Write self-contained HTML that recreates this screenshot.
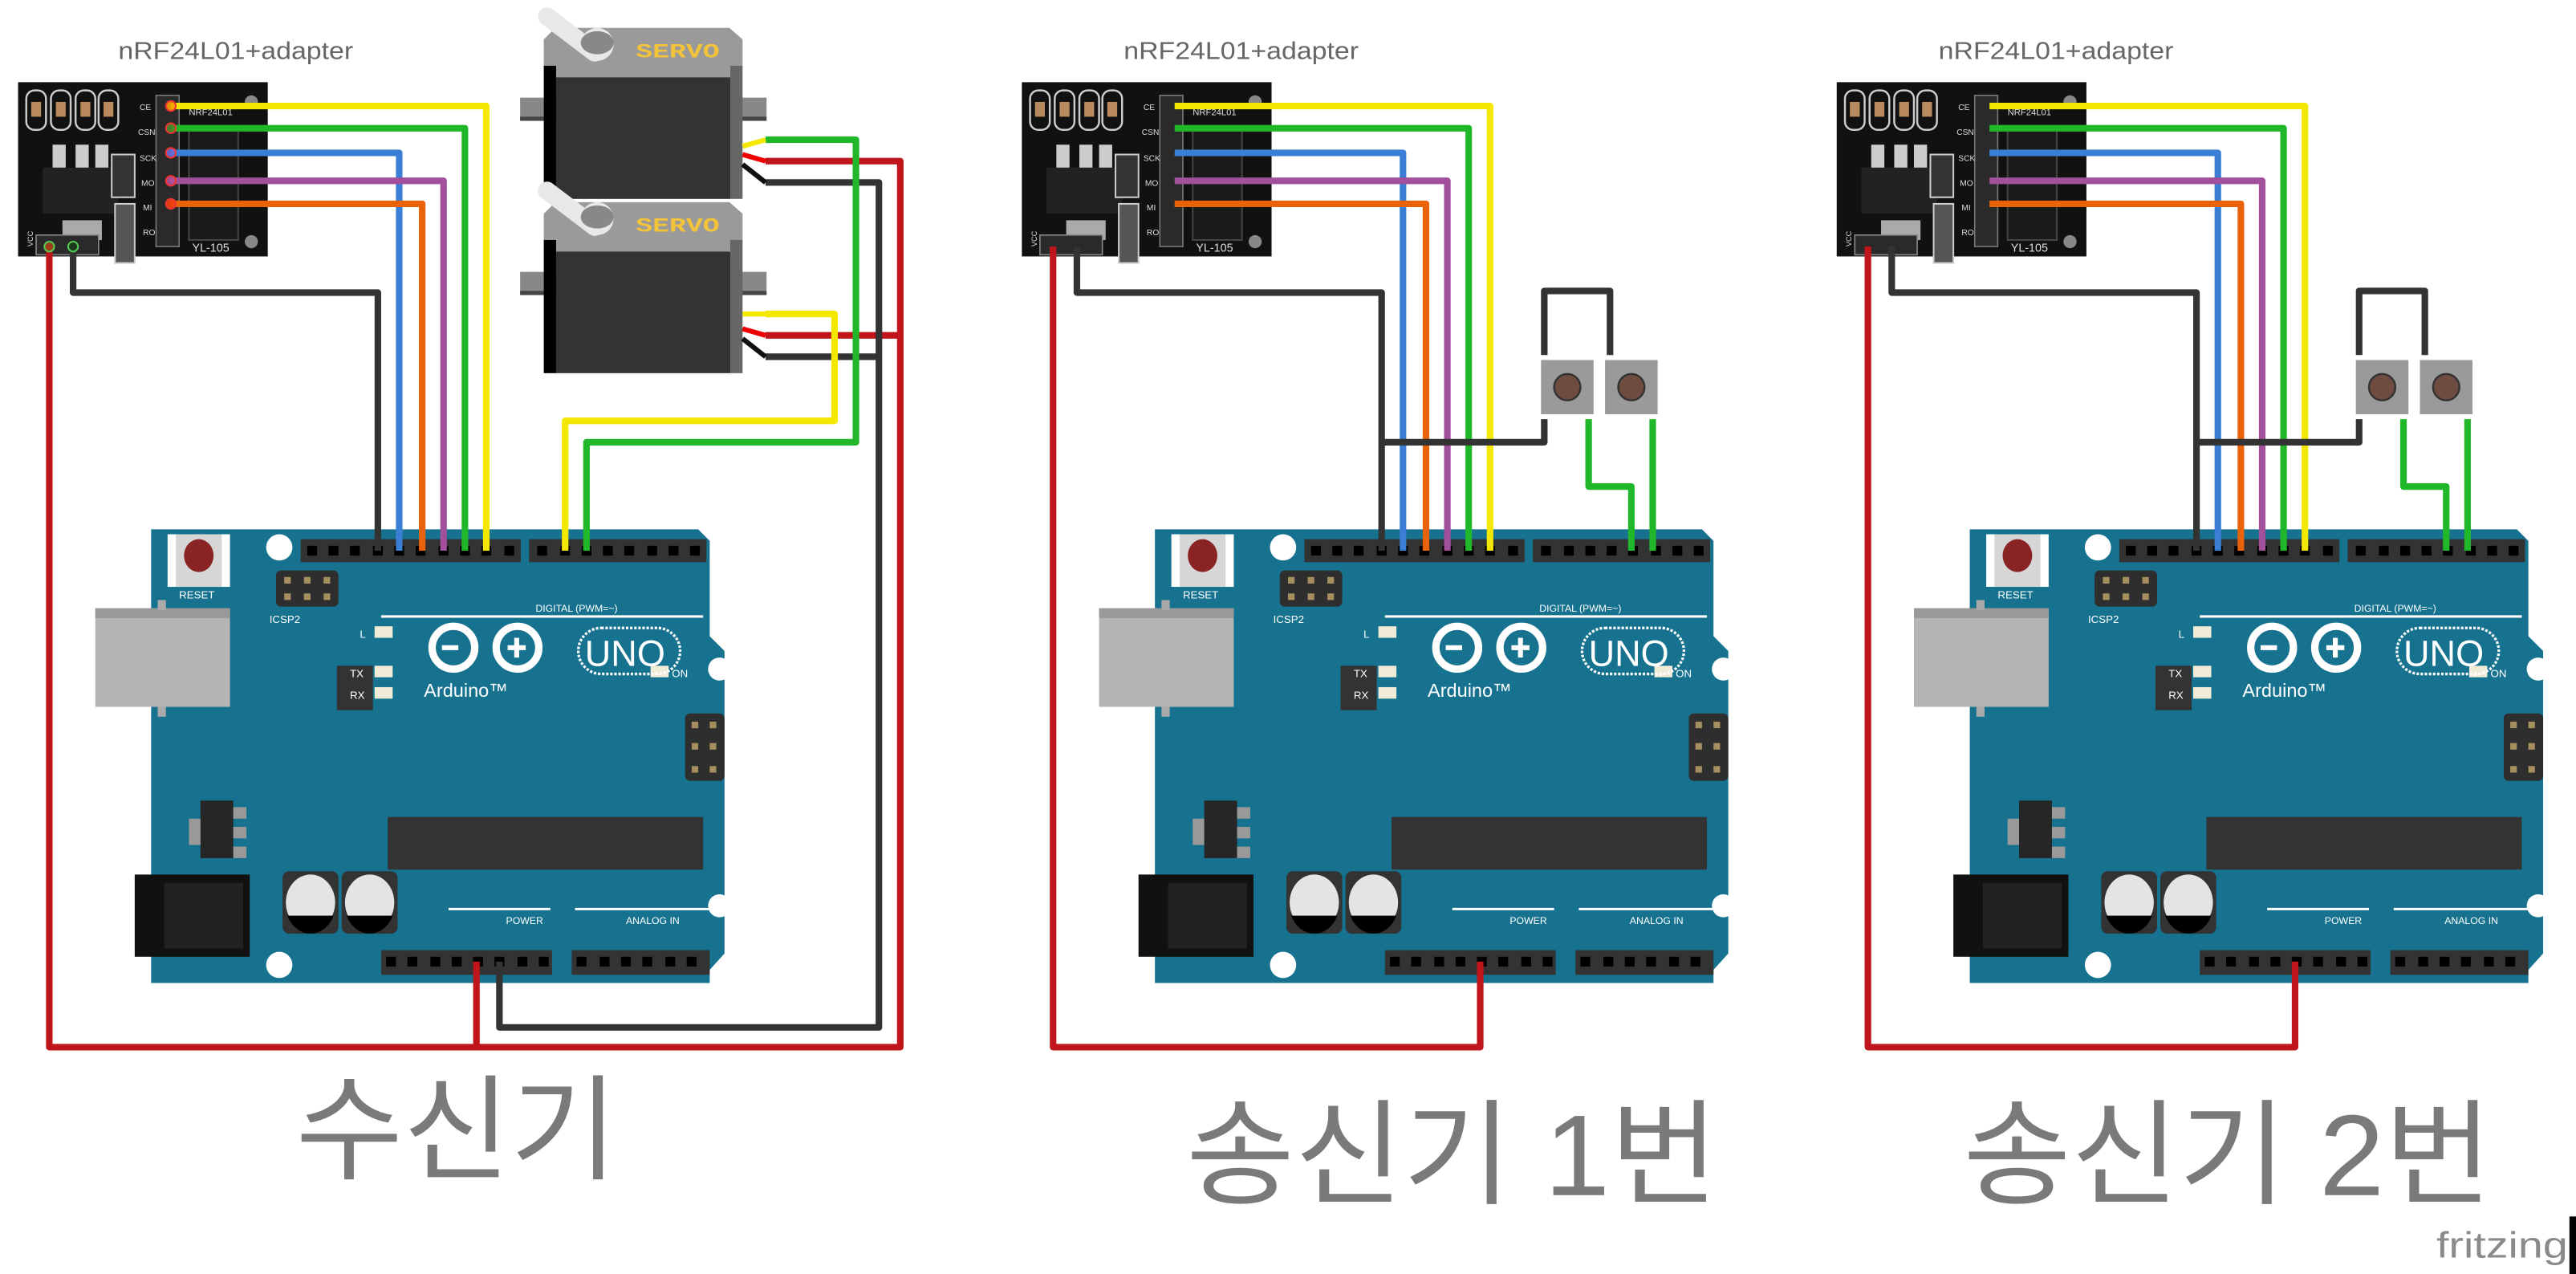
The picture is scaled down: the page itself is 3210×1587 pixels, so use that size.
<!DOCTYPE html>
<html><head><meta charset="utf-8"><style>
html,body{margin:0;padding:0;background:#fff;}
svg{display:block;}
</style></head><body>
<svg width="3210" height="1587" viewBox="0 0 1568 775" preserveAspectRatio="none" xmlns="http://www.w3.org/2000/svg" font-family="Liberation Sans, sans-serif">
<defs>
<g id="nrf">
  <rect x="11" y="50" width="152" height="106" fill="#111"/>
  <g fill="none" stroke="#ccc" stroke-width="1.2">
    <rect x="16" y="55" width="12" height="24" rx="5"/><rect x="31" y="55" width="12" height="24" rx="5"/>
    <rect x="46" y="55" width="12" height="24" rx="5"/><rect x="60" y="55" width="12" height="24" rx="5"/>
  </g>
  <g fill="#b98a5e"><rect x="19" y="62" width="6" height="9"/><rect x="34" y="62" width="6" height="9"/><rect x="49" y="62" width="6" height="9"/><rect x="63" y="62" width="6" height="9"/></g>
  <rect x="32" y="88" width="8" height="14" fill="#ccc"/><rect x="46" y="88" width="8" height="14" fill="#ccc"/><rect x="58" y="88" width="8" height="14" fill="#ccc"/>
  <rect x="26" y="102" width="46" height="28" fill="#222"/>
  <rect x="38" y="134" width="24" height="12" fill="#aaa"/>
  <rect x="68" y="94" width="14" height="26" fill="#333" stroke="#ccc" stroke-width="1"/>
  <rect x="70" y="124" width="12" height="36" fill="#555" stroke="#ccc" stroke-width="1"/>
  <rect x="95" y="58" width="14" height="92" fill="#2a2a2a" stroke="#777" stroke-width="0.8"/>
  <rect x="115" y="78" width="30" height="68" fill="#1a1a1a" stroke="#444"/>
  <g fill="#ddd" font-size="5">
    <text x="85" y="67">CE</text><text x="84" y="82">CSN</text><text x="85" y="98">SCK</text>
    <text x="86" y="113">MO</text><text x="87" y="128">MI</text><text x="87" y="143">RO</text>
    <text x="115" y="70" font-size="5.5">NRF24L01</text><text x="117" y="153" font-size="7">YL-105</text>
  </g>
  <circle cx="153" cy="62" r="4" fill="#888"/><circle cx="153" cy="147" r="4" fill="#888"/>
  <rect x="22" y="143" width="38" height="12" fill="#2a2a2a" stroke="#888" stroke-width="0.8"/>
  <text x="17" y="153" font-size="4.5" fill="#ddd" transform="rotate(-90 17 150)">VCC</text>
</g>
<g id="board">
  <polygon points="92,322 425,322 432,329 432,387 441,396 441,580 432,590 432,598 92,598" fill="#16728f"/>
  <rect x="58" y="370" width="82" height="60" fill="#b5b5b5"/><rect x="58" y="370" width="82" height="6" fill="#999"/>
  <rect x="96" y="365" width="5" height="6" fill="#aaa"/><rect x="96" y="430" width="5" height="6" fill="#aaa"/>
  <rect x="102" y="325" width="38" height="32" fill="#fff"/><rect x="107" y="325" width="28" height="32" fill="#d6d6d6"/>
  <ellipse cx="121" cy="338" rx="9" ry="10" fill="#8a2323"/>
  <circle cx="170" cy="333" r="8" fill="#fff"/>
  <rect x="168" y="347" width="38" height="22" rx="3" fill="#2e2e2e"/>
  <g fill="#a58f5f"><rect x="173" y="351" width="4" height="4"/><rect x="185" y="351" width="4" height="4"/><rect x="197" y="351" width="4" height="4"/><rect x="173" y="361" width="4" height="4"/><rect x="185" y="361" width="4" height="4"/><rect x="197" y="361" width="4" height="4"/></g>
  <rect x="183" y="328" width="134" height="14" fill="#333"/>
  <rect x="322" y="328" width="108" height="14" fill="#333"/>
  <g fill="#000">
    <rect x="187" y="332" width="6" height="6"/><rect x="200" y="332" width="6" height="6"/><rect x="213" y="332" width="6" height="6"/><rect x="227" y="332" width="6" height="6"/><rect x="240" y="332" width="6" height="6"/><rect x="253" y="332" width="6" height="6"/><rect x="267" y="332" width="6" height="6"/><rect x="280" y="332" width="6" height="6"/><rect x="293" y="332" width="6" height="6"/><rect x="307" y="332" width="6" height="6"/>
    <rect x="327" y="332" width="6" height="6"/><rect x="341" y="332" width="6" height="6"/><rect x="354" y="332" width="6" height="6"/><rect x="367" y="332" width="6" height="6"/><rect x="380" y="332" width="6" height="6"/><rect x="394" y="332" width="6" height="6"/><rect x="407" y="332" width="6" height="6"/><rect x="420" y="332" width="6" height="6"/>
  </g>
  <line x1="232" y1="375" x2="428" y2="375" stroke="#fff" stroke-width="1.5"/>
  <rect x="228" y="381" width="11" height="7" fill="#f0ecd8"/><rect x="228" y="405" width="11" height="7" fill="#f0ecd8"/><rect x="228" y="418" width="11" height="7" fill="#f0ecd8"/><rect x="396" y="405" width="11" height="7" fill="#f0ecd8"/>
  <rect x="205" y="405" width="22" height="27" fill="#333"/>
  <g fill="none" stroke="#fff" stroke-width="4.5"><circle cx="276" cy="394" r="13"/><circle cx="315" cy="394" r="13"/></g>
  <rect x="269" y="392.5" width="10" height="3" fill="#fff"/><rect x="309" y="392.5" width="11" height="3" fill="#fff"/><rect x="313" y="388" width="3" height="12" fill="#fff"/>
  <rect x="352" y="382" width="62" height="28" rx="14" fill="none" stroke="#fff" stroke-width="1.6" stroke-dasharray="1.5 1"/>
  <rect x="417" y="434" width="24" height="41" rx="3" fill="#2e2e2e"/>
  <g fill="#a58f5f"><rect x="421" y="439" width="4" height="4"/><rect x="432" y="439" width="4" height="4"/><rect x="421" y="452" width="4" height="4"/><rect x="432" y="452" width="4" height="4"/><rect x="421" y="466" width="4" height="4"/><rect x="432" y="466" width="4" height="4"/></g>
  <circle cx="438" cy="407" r="7" fill="#fff"/><circle cx="438" cy="551" r="7" fill="#fff"/><circle cx="170" cy="587" r="8" fill="#fff"/>
  <rect x="122" y="487" width="20" height="35" fill="#262626"/><rect x="142" y="491" width="8" height="7" fill="#999"/><rect x="142" y="503" width="8" height="7" fill="#999"/><rect x="142" y="515" width="8" height="7" fill="#999"/><rect x="115" y="498" width="7" height="16" fill="#999"/>
  <rect x="236" y="497" width="192" height="32" fill="#333"/>
  <rect x="82" y="532" width="70" height="50" fill="#111"/><rect x="100" y="537" width="48" height="40" fill="#222"/>
  <rect x="172" y="530" width="34" height="38" rx="4" fill="#333"/><ellipse cx="189" cy="549" rx="15" ry="17" fill="#e4e4e4"/><path d="M175,557 A15,17 0 0 0 203,557 Z" fill="#000"/>
  <rect x="208" y="530" width="34" height="38" rx="4" fill="#333"/><ellipse cx="225" cy="549" rx="15" ry="17" fill="#e4e4e4"/><path d="M211,557 A15,17 0 0 0 239,557 Z" fill="#000"/>
  <line x1="273" y1="553" x2="335" y2="553" stroke="#fff" stroke-width="1.5"/><line x1="350" y1="553" x2="432" y2="553" stroke="#fff" stroke-width="1.5"/>
  <rect x="232" y="578" width="104" height="15" fill="#333"/><rect x="348" y="578" width="84" height="15" fill="#333"/>
  <g fill="#000">
    <rect x="235" y="582" width="6" height="6"/><rect x="248" y="582" width="6" height="6"/><rect x="262" y="582" width="6" height="6"/><rect x="275" y="582" width="6" height="6"/><rect x="288" y="582" width="6" height="6"/><rect x="301" y="582" width="6" height="6"/><rect x="315" y="582" width="6" height="6"/><rect x="328" y="582" width="6" height="6"/>
    <rect x="351" y="582" width="6" height="6"/><rect x="365" y="582" width="6" height="6"/><rect x="378" y="582" width="6" height="6"/><rect x="391" y="582" width="6" height="6"/><rect x="405" y="582" width="6" height="6"/><rect x="418" y="582" width="6" height="6"/>
  </g>
</g>
<g id="servo">
  <rect x="316.6" y="59.4" width="150" height="14" fill="#888"/><rect x="316.6" y="71" width="150" height="2.5" fill="#444"/>
  <polygon points="331,24 338,17 444,17 452,24 452,40 444,47 338,47 331,40" fill="#9a9a9a"/>
  <rect x="331" y="40" width="7.5" height="81" fill="#000"/>
  <rect x="444.5" y="40" width="7.5" height="81" fill="#666"/>
  <rect x="338.5" y="47" width="106" height="74" fill="#333"/>
  <path d="M333,10 L362,32" stroke="#e8e8e8" stroke-width="11" stroke-linecap="round"/>
  <circle cx="363.5" cy="27" r="10" fill="#e8e8e8"/>
  <ellipse cx="363.5" cy="26" rx="10" ry="7" fill="#888"/>
  <text x="387" y="35" font-size="12" font-weight="bold" fill="#f3c33a" font-family="Liberation Mono, monospace" textLength="51" lengthAdjust="spacingAndGlyphs">SERVO</text>
</g>
</defs>

<!-- ===== Circuit 1 ===== -->
<text x="72" y="36" font-size="15" fill="#666" textLength="143" lengthAdjust="spacingAndGlyphs">nRF24L01+adapter</text>
<use href="#nrf"/>
<use href="#servo"/>
<use href="#servo" transform="translate(0,106)"/>
<use href="#board"/>
<g fill="#fff" font-size="6.5">
<text x="109" y="364">RESET</text><text x="164" y="379">ICSP2</text><text x="326" y="372" font-size="6">DIGITAL (PWM=~)</text>
<text x="219" y="388">L</text><text x="213" y="412">TX</text><text x="213" y="425">RX</text><text x="409" y="412">ON</text>
<text x="258" y="424" font-size="11.5">Arduino™</text><text x="356" y="405" font-size="22">UNO</text>
<text x="308" y="562" font-size="6">POWER</text><text x="381" y="562" font-size="6">ANALOG IN</text>
</g>
<g fill="none" stroke-width="4" stroke-linejoin="round">
  <path d="M104,64.5 H296 V335" stroke="#f5e800"/>
  <path d="M104,78 H283 V335" stroke="#20b82a"/>
  <path d="M104,93 H243 V335" stroke="#3a7fd5"/>
  <path d="M104,110 H270 V335" stroke="#a24f9c"/>
  <path d="M104,124 H257 V335" stroke="#e8620a"/>
  <path d="M44.5,150 V178 H230 V335" stroke="#333"/>
  <path d="M30,150 V637 H548 V98 H466" stroke="#c0151b"/>
  <path d="M548,204 H466 M290,585 V637" stroke="#c0151b"/>
  <path d="M304,585 V625 H535 V111 H466 M535,217 H466" stroke="#333"/>
  <path d="M466,85 H521 V269 H357 V335" stroke="#20b82a"/>
  <path d="M466,191 H508 V256 H344 V335" stroke="#f5e800"/>
  <path d="M452,89 L466,85 M452,191 L466,191" stroke="#f5e800" stroke-width="3"/>
  <path d="M452,94 L466,98 M452,200 L466,204" stroke="#e00" stroke-width="3"/>
  <path d="M452,100 L466,111 M452,206 L466,217" stroke="#111" stroke-width="3"/>
</g>
<g stroke-width="1" fill-opacity="0.9">
  <circle cx="104" cy="64.5" r="3" fill="#f5a000" stroke="#e33"/><circle cx="104" cy="78" r="3" fill="#4a8a2a" stroke="#e33"/>
  <circle cx="104" cy="93" r="3" fill="#6a6ad5" stroke="#e33"/><circle cx="104" cy="110" r="3" fill="#b4509c" stroke="#e33"/><circle cx="104" cy="124" r="3" fill="#f04010" stroke="#e33"/>
  <circle cx="30" cy="150" r="3" fill="#a0401a" stroke="#5c5"/><circle cx="44.5" cy="150" r="3" fill="#1a3a1a" stroke="#5c5"/>
</g>

<!-- ===== Circuit 2 ===== -->
<text x="684" y="36" font-size="15" fill="#666" textLength="143" lengthAdjust="spacingAndGlyphs">nRF24L01+adapter</text>
<use href="#nrf" transform="translate(611,0)"/>
<use href="#board" transform="translate(611,0)"/>
<g fill="#fff" font-size="6.5">
<text x="720" y="364">RESET</text><text x="775" y="379">ICSP2</text><text x="937" y="372" font-size="6">DIGITAL (PWM=~)</text>
<text x="830" y="388">L</text><text x="824" y="412">TX</text><text x="824" y="425">RX</text><text x="1020" y="412">ON</text>
<text x="869" y="424" font-size="11.5">Arduino™</text><text x="967" y="405" font-size="22">UNO</text>
<text x="919" y="562" font-size="6">POWER</text><text x="992" y="562" font-size="6">ANALOG IN</text>
</g>
<g>
  <rect x="938" y="219" width="32" height="33" fill="#9a9a9a"/><circle cx="954" cy="235.5" r="8" fill="#6e4c40" stroke="#333" stroke-width="1.2"/>
  <rect x="977" y="219" width="32" height="33" fill="#9a9a9a"/><circle cx="993" cy="235.5" r="8" fill="#6e4c40" stroke="#333" stroke-width="1.2"/>
</g>
<g fill="none" stroke-width="4" stroke-linejoin="round">
  <path d="M715,64.5 H907 V335" stroke="#f5e800"/>
  <path d="M715,78 H894 V335" stroke="#20b82a"/>
  <path d="M715,93 H854 V335" stroke="#3a7fd5"/>
  <path d="M715,110 H881 V335" stroke="#a24f9c"/>
  <path d="M715,124 H868 V335" stroke="#e8620a"/>
  <path d="M655.5,150 V178 H841 V335" stroke="#333"/>
  <path d="M841,269 H940 V255 M940,216 V177 H980 V216" stroke="#333"/>
  <path d="M641,150 V637 H901 V585" stroke="#c0151b"/>
  <path d="M967,255 V296 H993 V335 M1006,255 V335" stroke="#20b82a"/>
</g>

<!-- ===== Circuit 3 ===== -->
<text x="1180" y="36" font-size="15" fill="#666" textLength="143" lengthAdjust="spacingAndGlyphs">nRF24L01+adapter</text>
<use href="#nrf" transform="translate(1107,0)"/>
<use href="#board" transform="translate(1107,0)"/>
<g fill="#fff" font-size="6.5">
<text x="1216" y="364">RESET</text><text x="1271" y="379">ICSP2</text><text x="1433" y="372" font-size="6">DIGITAL (PWM=~)</text>
<text x="1326" y="388">L</text><text x="1320" y="412">TX</text><text x="1320" y="425">RX</text><text x="1516" y="412">ON</text>
<text x="1365" y="424" font-size="11.5">Arduino™</text><text x="1463" y="405" font-size="22">UNO</text>
<text x="1415" y="562" font-size="6">POWER</text><text x="1488" y="562" font-size="6">ANALOG IN</text>
</g>
<g>
  <rect x="1434" y="219" width="32" height="33" fill="#9a9a9a"/><circle cx="1450" cy="235.5" r="8" fill="#6e4c40" stroke="#333" stroke-width="1.2"/>
  <rect x="1473" y="219" width="32" height="33" fill="#9a9a9a"/><circle cx="1489" cy="235.5" r="8" fill="#6e4c40" stroke="#333" stroke-width="1.2"/>
</g>
<g fill="none" stroke-width="4" stroke-linejoin="round">
  <path d="M1211,64.5 H1403 V335" stroke="#f5e800"/>
  <path d="M1211,78 H1390 V335" stroke="#20b82a"/>
  <path d="M1211,93 H1350 V335" stroke="#3a7fd5"/>
  <path d="M1211,110 H1377 V335" stroke="#a24f9c"/>
  <path d="M1211,124 H1364 V335" stroke="#e8620a"/>
  <path d="M1151.5,150 V178 H1337 V335" stroke="#333"/>
  <path d="M1337,269 H1436 V255 M1436,216 V177 H1476 V216" stroke="#333"/>
  <path d="M1137,150 V637 H1397 V585" stroke="#c0151b"/>
  <path d="M1463,255 V296 H1489 V335 M1502,255 V335" stroke="#20b82a"/>
</g>

<!-- titles -->
<g fill="#7a7a7a" font-family="Liberation Sans, Noto Sans CJK KR, sans-serif" font-size="70">
  <text x="180" y="712" textLength="196" lengthAdjust="spacingAndGlyphs">수신기</text>
  <text x="722" y="727" textLength="324" lengthAdjust="spacingAndGlyphs">송신기 1번</text>
  <text x="1195" y="727" textLength="322" lengthAdjust="spacingAndGlyphs">송신기 2번</text>
</g>
<text x="1483" y="765" font-size="22" fill="#8a8a8a" textLength="80" lengthAdjust="spacingAndGlyphs">fritzing</text>
<rect x="1564" y="740" width="4" height="35" fill="#000"/>
</svg>
</body></html>
